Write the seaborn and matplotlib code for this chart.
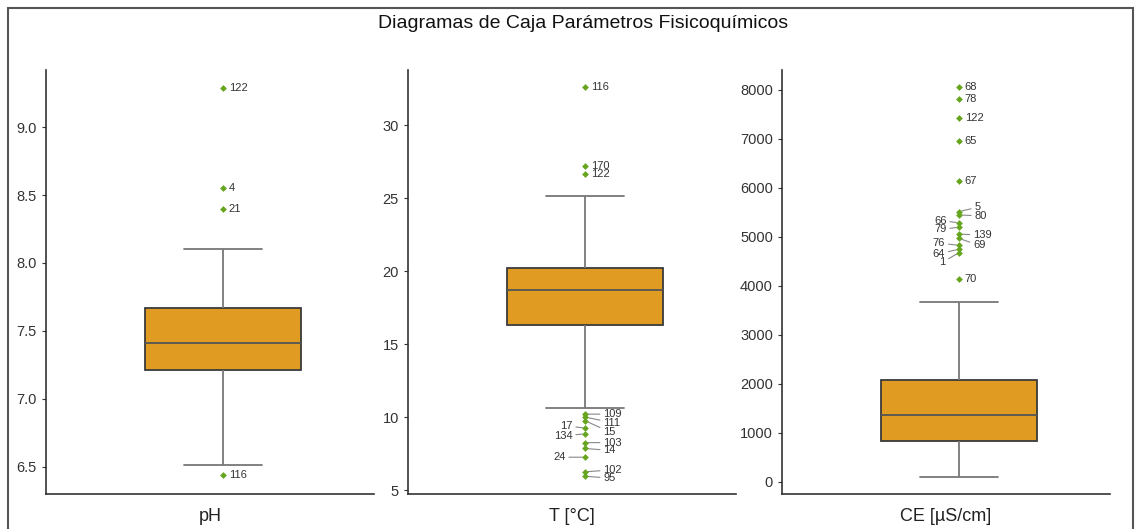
import numpy as np
import pandas as pd
import seaborn as sns
import matplotlib.pyplot as plt
from matplotlib.patches import Rectangle

# caja: bigote inferior, Q1, mediana, Q3, bigote superior
ph_box = [6.51, 7.21, 7.41, 7.67, 8.10]
t_box = [10.6, 16.3, 18.7, 20.2, 25.15]
ce_box = [100, 837, 1367, 2080, 3673]

# valores atipicos y su numero de muestra
ph_out = [9.29, 8.55, 8.40, 6.44]
ph_ids = ["122", "4", "21", "116"]

t_out = [32.6, 27.2, 26.65, 10.2, 10.0, 9.75, 9.25, 8.85, 8.25, 7.85, 7.25, 6.25, 5.95]
t_ids = ["116", "170", "122", "109", "111", "15", "17", "134", "103", "14", "24", "102", "95"]

ce_out = [8060, 7820, 7430, 6960, 6145, 5520, 5450, 5290, 5200, 5060, 4970, 4830, 4750, 4680, 4145]
ce_ids = ["68", "78", "122", "65", "67", "5", "80", "66", "79", "139", "69", "76", "64", "1", "70"]

labels = ["pH", "T [°C]", "CE [µS/cm]"]

# posicion de las etiquetas (puntos) respecto al punto
ph_off = {k: (4, 0) for k in ph_ids}
t_off = {"116": (4, 0), "170": (4, 0), "122": (4, 0),
         "109": (13, 0), "111": (13, -4), "15": (13, -8),
         "17": (-9, 1.4), "134": (-9, -1.4), "103": (13, 0), "14": (13, -1.4),
         "24": (-14, 0), "102": (13, 1.4), "95": (13, -1.4)}
ce_off = {"68": (4, 0), "78": (4, 0), "122": (4, 0), "65": (4, 0), "67": (4, 0), "70": (4, 0),
          "5": (11, 3), "80": (11, -0.7), "66": (-9, 1.6), "79": (-9, -1.6),
          "139": (10, -0.8), "69": (10, -5), "76": (-10, 1.6), "64": (-10, -3.2), "1": (-10, -7)}

sns.set_style("ticks")
plt.rcParams['font.family'] = ['Liberation Sans', 'DejaVu Sans']

fig = plt.figure(figsize=(11.4, 5.29), dpi=100)
W, H = 1140, 529
lefts = [46, 408, 782]
axes = [fig.add_axes([l / W, 35 / H, 328 / W, 424 / H]) for l in lefts]

boxes = [ph_box, t_box, ce_box]
outs = [(ph_out, ph_ids, ph_off), (t_out, t_ids, t_off), (ce_out, ce_ids, ce_off)]
ylims = [(6.30, 9.42), (4.73, 33.77), (-245, 8408)]
yticks = [[6.5, 7.0, 7.5, 8.0, 8.5, 9.0], [5, 10, 15, 20, 25, 30], list(range(0, 8001, 1000))]

for ax, box, (vals, ids, off), lab, yl, yt in zip(axes, boxes, outs, labels, ylims, yticks):
    sns.boxplot(y=box, ax=ax, whis=(0, 100), width=0.476, color="#E09B23", saturation=1,
                linecolor="#3a3a3a", linewidth=1.3, showfliers=False,
                whiskerprops=dict(color="#777777", linewidth=1.3),
                capprops=dict(color="#777777", linewidth=1.3),
                medianprops=dict(color="#555555", linewidth=1.3))
    sns.scatterplot(x=np.zeros(len(vals)), y=vals, ax=ax, marker="D", s=12,
                    color="#66A51F", edgecolor="#66A51F", linewidth=0, zorder=5)
    for v, i in zip(vals, ids):
        dx, dy = off[i]
        ha = "left" if dx > 0 else "right"
        arrow = None
        if abs(dx) > 5:
            arrow = dict(arrowstyle="-", color="#888888", lw=0.8, shrinkA=0, shrinkB=2)
        ax.annotate(i, (0, v), xytext=(dx, dy), textcoords="offset points",
                    ha=ha, va="center", fontsize=8, color="#333333", arrowprops=arrow)
    ax.set_xlim(-0.54, 0.46)
    ax.set_ylim(*yl)
    ax.set_yticks(yt)
    ax.set_xticks([])
    ax.set_xlabel(lab, fontsize=13, color="#222222", labelpad=10)
    ax.set_ylabel("")
    ax.tick_params(axis="y", labelsize=10.5, colors="#333333", length=3)
    for s in ["top", "right"]:
        ax.spines[s].set_visible(False)
    for s in ["left", "bottom"]:
        ax.spines[s].set_color("#333333")
        ax.spines[s].set_linewidth(1.2)

fig.text(583 / W, 1 - 23 / H, "Diagramas de Caja Parámetros Fisicoquímicos",
         ha="center", va="center", fontsize=14, color="#111111")
fig.patches.append(Rectangle((8 / W, -0.1), 1125 / W, 1.1 - 8 / H, transform=fig.transFigure,
                             fill=False, edgecolor="#555555", linewidth=1.5))

plt.savefig("out.png", dpi=100)
